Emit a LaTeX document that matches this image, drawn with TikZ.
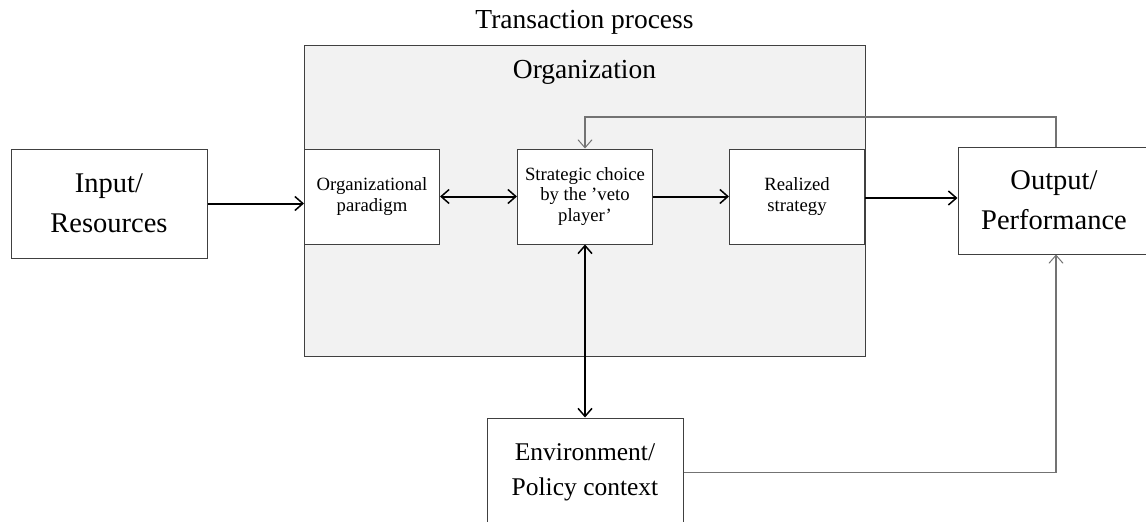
\documentclass[tikz,border=0pt]{standalone}
\usepackage{fontspec}
\setmainfont{Liberation Serif}
\usetikzlibrary{positioning,calc,arrows.meta}
\definecolor{boxgray}{rgb}{0.25, 0.25, 0.25}
\definecolor{linegray}{rgb}{0.45, 0.45, 0.45}
\definecolor{orgfill}{rgb}{0.949, 0.949, 0.949}

\begin{document}
\begin{tikzpicture}[x=1pt,y=-1pt,
                big node/.style={rectangle,draw=boxgray,line width=1pt,fill=white,align=center,
                  inner sep=0pt,font=\fontsize{28.5}{40}\selectfont},
                small node/.style={rectangle,draw=boxgray,line width=1pt,fill=white,align=center,
                  inner sep=0pt,minimum width=135pt,minimum height=95pt,font=\fontsize{18.7}{20.5}\selectfont},
                link/.style={-{Straight Barb[length=8pt,width=14pt,line width=1.5pt]},line width=2pt,black},
                twolink/.style={{Straight Barb[length=8pt,width=14pt,line width=1.5pt]}-{Straight Barb[length=8pt,width=14pt,line width=1.5pt]},line width=2pt,black},
                thinlink/.style={-{Straight Barb[length=8pt,width=14pt,line width=1pt]},line width=1.3pt,linegray}]
\clip (0,0) rectangle (1146,522);
%Frame
    \node[rectangle,draw=boxgray,line width=1pt,fill=orgfill,minimum width=561pt,minimum height=311pt,inner sep=0pt] (org) at (584.5,200.5) {};
    \node[font=\fontsize{27.5}{30}\selectfont] (trans) at (584.5,22) {Transaction process};
    \node[font=\fontsize{27.5}{30}\selectfont] (orgtitle) at (584.5,72) {Organization};
%Nodes
    \node[big node,minimum width=196pt,minimum height=109pt] (input) at (109,203.5) {Input/\\Resources};
    \node[small node] (paradigm) at (372,196.5) {Organizational\\paradigm};
    \node[small node] (choice) at (585,196.5) {Strategic choice\\by the 'veto\\player'};
    \node[small node] (realized) at (797,196.5) {Realized\\strategy};
    \node[big node,minimum width=192pt,minimum height=107pt] (output) at (1054,200.5) {Output/\\Performance};
    \node[big node,minimum width=196pt,minimum height=109pt,font=\fontsize{25.5}{35}\selectfont] (env) at (585,472.5) {Environment/\\Policy context};
    \coordinate (fbtop) at (0,117);

    \draw[link] (input.east) -- (input.east -| paradigm.west);
    \draw[twolink] (paradigm) -- (choice);
    \draw[link] (choice) -- (realized);
    \draw[link] ([yshift=-1.5pt]realized.east) -- ([yshift=-1.5pt]realized.east -| output.west);
    \draw[twolink] (choice.south) -- (env.north);
    \draw[thinlink] ([xshift=2pt]output.north) |- (fbtop -| choice.north) -- (choice.north);
    \draw[thinlink] (env.east) -| ([xshift=2pt]output.south);
\end{tikzpicture}
\end{document}
